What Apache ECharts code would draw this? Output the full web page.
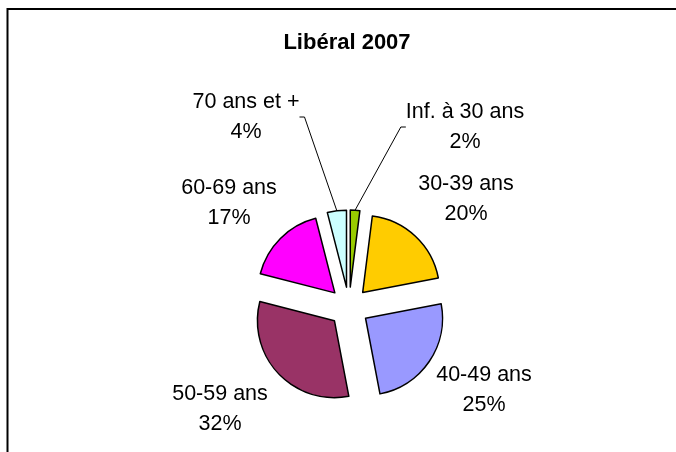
<!DOCTYPE html>
<html>
<head>
<meta charset="utf-8">
<script src="https://cdn.jsdelivr.net/npm/echarts@6/dist/echarts.min.js"></script>
<style>
  html, body { margin: 0; padding: 0; background: #fff; }
  #chart { width: 676px; height: 452px; }
</style>
</head>
<body>
<div id="chart"></div>
<script>
const categories = ["Inf. à 30 ans", "30-39 ans", "40-49 ans", "50-59 ans", "60-69 ans", "70 ans et +"];
const values = [2, 20, 25, 32, 17, 4];
const colors = ["#99CC00", "#FFCC00", "#9999FF", "#993366", "#FF00FF", "#CCFFFF"];
// label block centres (px)
const labelPos = [[465, 127], [466, 199], [484, 390], [220, 409], [229, 203], [246, 117]];
const showLine = [true, false, false, false, false, true];

const chart = echarts.init(document.getElementById("chart"));

const labelFont = { fontFamily: "Liberation Sans", fontSize: 21.5, lineHeight: 30, color: "#000" };

chart.setOption({
  animation: false,
  title: {
    text: "Libéral 2007",
    left: 342,
    top: 27,
    textAlign: "center",
    textStyle: { fontFamily: "Liberation Sans", fontSize: 22, fontWeight: "bold", color: "#000" }
  },
  graphic: [{
    type: "polyline",
    shape: { points: [[7.5, 452], [7.5, 9], [676, 9]] },
    style: { stroke: "#000", lineWidth: 2, fill: null }
  }],
  series: [{
    // exploded slices
    type: "pie",
    center: [349, 307],
    radius: [0, 77],
    startAngle: 90,
    clockwise: true,
    selectedMode: "multiple",
    selectedOffset: 20,
    silent: true,
    label: { show: false },
    labelLine: { show: false },
    itemStyle: { borderColor: "#000", borderWidth: 1.5 },
    data: categories.map((c, i) => ({
      name: c,
      value: values[i],
      selected: true,
      itemStyle: { color: colors[i] }
    }))
  }, {
    // labels only, slices transparent
    type: "pie",
    center: [349, 307],
    radius: [0, 97],
    startAngle: 90,
    clockwise: true,
    silent: true,
    z: 3,
    avoidLabelOverlap: false,
    itemStyle: { color: "rgba(0,0,0,0)", borderWidth: 0 },
    label: Object.assign({
      show: true,
      position: "outside",
      formatter: "{b}\n{c}%",
      align: "center"
    }, labelFont),
    labelLine: { length: 10, length2: 5, lineStyle: { color: "#000", width: 1 } },
    labelLayout: function (p) {
      return {
        x: labelPos[p.dataIndex][0],
        y: labelPos[p.dataIndex][1],
        align: "center",
        verticalAlign: "middle"
      };
    },
    data: categories.map((c, i) => ({
      name: c,
      value: values[i],
      labelLine: { show: showLine[i] }
    }))
  }]
});
</script>
</body>
</html>
